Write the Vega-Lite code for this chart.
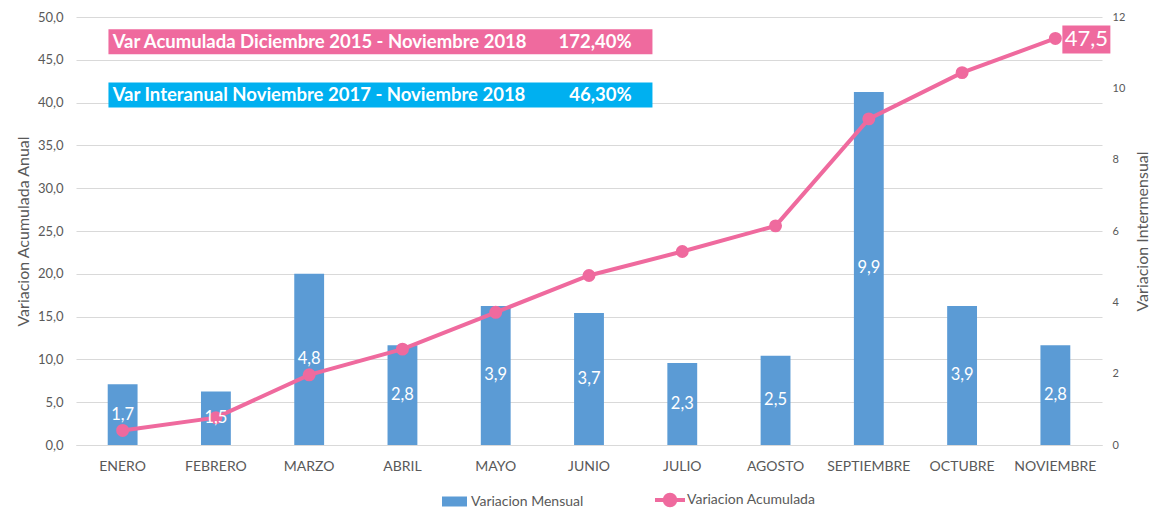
{
  "$schema": "https://vega.github.io/schema/vega-lite/v6.json",
  "width": 1026,
  "height": 428,
  "autosize": {"type": "none"},
  "padding": {"left": 76, "top": 17, "right": 55, "bottom": 69},
  "background": "white",
  "config": {
    "locale": {"number": {"decimal": ",", "thousands": ".", "grouping": [3], "currency": ["", " €"]}},
    "font": "Lato",
    "view": {"stroke": null},
    "axis": {"labelFont": "Lato", "titleFont": "Lato", "labelColor": "#595959", "titleColor": "#595959", "titleFontWeight": "normal", "ticks": false, "domain": false, "gridColor": "#d9d9d9", "gridWidth": 1}
  },
  "datasets": {
    "meses": [
      {"mes": "ENERO", "mensual": 1.7, "acum": 1.7},
      {"mes": "FEBRERO", "mensual": 1.5, "acum": 3.2},
      {"mes": "MARZO", "mensual": 4.8, "acum": 8.2},
      {"mes": "ABRIL", "mensual": 2.8, "acum": 11.2},
      {"mes": "MAYO", "mensual": 3.9, "acum": 15.5},
      {"mes": "JUNIO", "mensual": 3.7, "acum": 19.8},
      {"mes": "JULIO", "mensual": 2.3, "acum": 22.6},
      {"mes": "AGOSTO", "mensual": 2.5, "acum": 25.6},
      {"mes": "SEPTIEMBRE", "mensual": 9.9, "acum": 38.1},
      {"mes": "OCTUBRE", "mensual": 3.9, "acum": 43.5},
      {"mes": "NOVIEMBRE", "mensual": 2.8, "acum": 47.5}
    ],
    "notas": [
      {"texto": "Var Acumulada Diciembre 2015 - Noviembre 2018", "pct": "172,40%", "serie": "acum", "nivel": 47.1},
      {"texto": "Var  Interanual Noviembre 2017 - Noviembre 2018", "pct": "46,30%", "serie": "inter", "nivel": 40.9}
    ]
  },
  "layer": [
    {
      "data": {"name": "meses"},
      "mark": {"type": "bar"},
      "encoding": {
        "x": {"field": "mes", "type": "nominal", "sort": null,
          "scale": {"domain": ["ENERO","FEBRERO","MARZO","ABRIL","MAYO","JUNIO","JULIO","AGOSTO","SEPTIEMBRE","OCTUBRE","NOVIEMBRE"], "paddingInner": 0.68, "paddingOuter": 0.34},
          "axis": {"title": null, "labelAngle": 0, "labelFontSize": 14, "labelPadding": 14, "domain": true, "domainColor": "#d9d9d9", "grid": false}},
        "y": {"field": "mensual", "type": "quantitative", "scale": {"domain": [0, 12], "nice": false},
          "axis": {"orient": "right", "values": [0, 2, 4, 6, 8, 10, 12], "grid": false, "labelFontSize": 11, "labelPadding": 10, "title": "Variacion Intermensual", "titleFontSize": 16, "titleAngle": -90, "titlePadding": 26}},
        "fill": {"datum": "Variacion Mensual", "type": "nominal", "scale": {"range": ["#5B9BD5"]},
          "legend": {"orient": "none", "legendX": 365, "legendY": 471, "title": null, "symbolType": "M-1,-0.4H1V0.4H-1Z", "symbolSize": 625, "labelOffset": 3, "labelFontSize": 14, "labelColor": "#595959", "labelFont": "Lato"}}
      }
    },
    {
      "data": {"name": "meses"},
      "mark": {"type": "line", "color": "#EF6A9E", "strokeWidth": 4, "point": {"filled": true, "size": 120, "color": "#EF6A9E", "opacity": 1}},
      "encoding": {
        "x": {"field": "mes", "type": "nominal", "sort": null,
          "scale": {"domain": ["ENERO","FEBRERO","MARZO","ABRIL","MAYO","JUNIO","JULIO","AGOSTO","SEPTIEMBRE","OCTUBRE","NOVIEMBRE"]}},
        "y": {"field": "acum", "type": "quantitative", "scale": {"domain": [0, 50], "nice": false},
          "axis": {"orient": "left", "values": [0, 5, 10, 15, 20, 25, 30, 35, 40, 45, 50], "format": ".1f", "grid": true, "labelFontSize": 13, "labelPadding": 13, "title": "Variacion Acumulada Anual", "titleFontSize": 16, "titlePadding": 6}},
        "stroke": {"datum": "Variacion Acumulada", "type": "nominal", "scale": {"range": ["#EF6A9E"]},
          "legend": {"orient": "none", "legendX": 577, "legendY": 466, "title": null, "symbolType": "M-1,0H-0.35A0.35,0.35 0 1,1 0.35,0A0.35,0.35 0 1,1 -0.35,0M0.35,0H1", "symbolSize": 900, "symbolStrokeWidth": 4, "symbolFillColor": "#EF6A9E", "labelOffset": 0, "labelFontSize": 14, "labelColor": "#595959", "labelFont": "Lato"}}
      }
    },
    {
      "data": {"name": "meses"},
      "mark": {"type": "text", "color": "white", "fontSize": 16.5, "baseline": "middle"},
      "encoding": {
        "x": {"field": "mes", "type": "nominal", "sort": null,
          "scale": {"domain": ["ENERO","FEBRERO","MARZO","ABRIL","MAYO","JUNIO","JULIO","AGOSTO","SEPTIEMBRE","OCTUBRE","NOVIEMBRE"]}},
        "y": {"field": "mensual", "type": "quantitative", "scale": {"domain": [0, 24], "nice": false}, "axis": null},
        "text": {"field": "mensual", "type": "quantitative", "format": ".1f"}
      }
    },
    {
      "data": {"name": "meses"},
      "transform": [{"filter": "datum.mes === 'NOVIEMBRE'"}],
      "layer": [
        {
          "mark": {"type": "point", "shape": "M-1,-0.5833H1V0.5833H-1Z", "size": 2304, "filled": true, "opacity": 1, "color": "#EF6A9E", "xOffset": 31, "yOffset": 1},
          "encoding": {
            "x": {"field": "mes", "type": "nominal", "sort": null,
              "scale": {"domain": ["ENERO","FEBRERO","MARZO","ABRIL","MAYO","JUNIO","JULIO","AGOSTO","SEPTIEMBRE","OCTUBRE","NOVIEMBRE"]}},
            "y": {"field": "acum", "type": "quantitative", "scale": {"domain": [0, 50], "nice": false}, "axis": null}
          }
        },
        {
          "mark": {"type": "text", "color": "white", "fontSize": 22, "baseline": "middle", "align": "center", "dx": 31, "dy": 1},
          "encoding": {
            "x": {"field": "mes", "type": "nominal", "sort": null,
              "scale": {"domain": ["ENERO","FEBRERO","MARZO","ABRIL","MAYO","JUNIO","JULIO","AGOSTO","SEPTIEMBRE","OCTUBRE","NOVIEMBRE"]}},
            "y": {"field": "acum", "type": "quantitative", "scale": {"domain": [0, 50], "nice": false}, "axis": null},
            "text": {"field": "acum", "type": "quantitative", "format": ".1f"}
          }
        }
      ]
    },
    {
      "data": {"name": "notas"},
      "layer": [
        {
          "mark": {"type": "point", "shape": "M-1,-0.046H1V0.046H-1Z", "size": 295936, "filled": true, "opacity": 1, "xOffset": -22},
          "encoding": {
            "x": {"datum": "ABRIL", "type": "nominal",
              "scale": {"domain": ["ENERO","FEBRERO","MARZO","ABRIL","MAYO","JUNIO","JULIO","AGOSTO","SEPTIEMBRE","OCTUBRE","NOVIEMBRE"]}},
            "y": {"field": "nivel", "type": "quantitative", "scale": {"domain": [0, 50], "nice": false}, "axis": null},
            "color": {"field": "serie", "type": "nominal", "scale": {"domain": ["acum", "inter"], "range": ["#EF6A9E", "#00B0F0"]}, "legend": null}
          }
        },
        {
          "mark": {"type": "text", "color": "white", "fontSize": 18.5, "fontWeight": "bold", "baseline": "middle", "align": "left", "dx": -10},
          "encoding": {
            "x": {"datum": "ENERO", "type": "nominal",
              "scale": {"domain": ["ENERO","FEBRERO","MARZO","ABRIL","MAYO","JUNIO","JULIO","AGOSTO","SEPTIEMBRE","OCTUBRE","NOVIEMBRE"]}},
            "y": {"field": "nivel", "type": "quantitative", "scale": {"domain": [0, 50], "nice": false}, "axis": null},
            "text": {"field": "texto", "type": "nominal"}
          }
        },
        {
          "mark": {"type": "text", "color": "white", "fontSize": 18.5, "fontWeight": "bold", "baseline": "middle", "align": "right", "dx": 509},
          "encoding": {
            "x": {"datum": "ENERO", "type": "nominal",
              "scale": {"domain": ["ENERO","FEBRERO","MARZO","ABRIL","MAYO","JUNIO","JULIO","AGOSTO","SEPTIEMBRE","OCTUBRE","NOVIEMBRE"]}},
            "y": {"field": "nivel", "type": "quantitative", "scale": {"domain": [0, 50], "nice": false}, "axis": null},
            "text": {"field": "pct", "type": "nominal"}
          }
        }
      ]
    }
  ],
  "resolve": {"scale": {"y": "independent"}}
}
